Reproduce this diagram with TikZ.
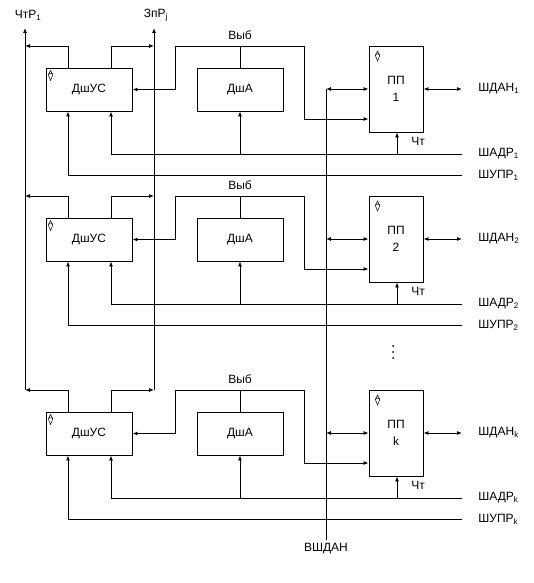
\documentclass[tikz,border=0pt]{standalone}
\usepackage{fontspec}
\setmainfont{Liberation Sans}
\usetikzlibrary{arrows.meta,positioning,calc}
\tikzset{
  >={Latex[length=5pt,width=4pt]},
  unit/.style  = {draw, minimum width=86pt, minimum height=43pt, inner sep=0pt},
  ppbox/.style = {draw, minimum width=54pt, minimum height=86pt, inner sep=0pt, align=center},
  lbl/.style   = {inner sep=1pt, anchor=west},
  op/.style    = {inner sep=1pt},
  pics/modemark/.style = {code={
    \draw[line width=0.5pt] (0,-5) -- (2.2,-0.5) -- (0,5) -- (-2.2,-0.5) -- cycle
      (-2.2,-1.8) -- (2.2,-1.8);}},
  every node/.style = {font=\fontsize{12}{17}\selectfont}
}

\begin{document}
\begin{tikzpicture}[x=1pt, y=-1pt, line width=0.9pt]
\useasboundingbox (0,0) rectangle (533,583);

% Common buses
\coordinate (rdtop) at (25,28);
\coordinate (rdbot) at (25,390);
\coordinate (wrtop) at (154,28);
\coordinate (wrbot) at (154,390);
\coordinate (vsbot) at (326,540);
\draw[->] (rdbot) -- (rdtop);
\draw[->] (wrbot) -- (wrtop);
\node[op] (rdlbl) at (28,15) {ЧтР\textsubscript{1}};
\node[op] (wrlbl) at (156,15) {ЗпР\textsubscript{j}};
\node[op] (vslbl) at (326,549) {ВШДАН};

% Block 1
\node[unit] (dsus1) at (89,89.5) {ДшУС};
\node[unit] (dsa1) at (240,89.5) {ДшА};
\node[ppbox] (pp1) at (396,89) {ПП\\1};
\pic at ([shift={(5,8)}]dsus1.north west) {modemark};
\pic at ([shift={(9,10.5)}]pp1.north west) {modemark};
\coordinate (rd1) at (25,46);
\coordinate (wr1) at (154,46);
\draw[->] ([xshift=-21pt]dsus1.north) |- (rd1);
\draw[->] ([xshift=22pt]dsus1.north) |- (wr1);
\coordinate (vyb1) at (240,46);
\node[op] (vybl1) at (240,35) {Выб};
\draw (dsa1.north) -- (vyb1);
\draw[->] (vyb1) -| (175,89.5) -- (dsus1.east);
\draw[->] (vyb1) -| ([xshift=-64pt,yshift=-30pt]pp1.west) -- ([yshift=-30pt]pp1.west);
\coordinate (vs1) at (326,89);
\draw (vs1) -- (vsbot);
\draw[<->] (vs1) -- (pp1.west);
\coordinate (sd1) at (462,89);
\draw[<->] (pp1.east) -- (sd1);
\node[lbl] (sdl1) at (477,89) {ШДАН\textsubscript{1}};
\coordinate (ad1) at (462,154);
\draw[->] (ad1) -| ([xshift=22pt]dsus1.south);
\draw[->] (dsa1.south |- ad1) -- (dsa1.south);
\draw[->] ([xshift=1pt]pp1.south |- ad1) -- ([xshift=1pt]pp1.south);
\node[op] (rdl1) at (418,141) {Чт};
\node[lbl] (adl1) at (477,154) {ШАДР\textsubscript{1}};
\coordinate (cn1) at (462,175);
\draw[->] (cn1) -| ([xshift=-21pt]dsus1.south);
\node[lbl] (cnl1) at (477,175) {ШУПР\textsubscript{1}};

% Block 2
\node[unit] (dsus2) at (89,239.5) {ДшУС};
\node[unit] (dsa2) at (240,239.5) {ДшА};
\node[ppbox] (pp2) at (396,239) {ПП\\2};
\pic at ([shift={(5,8)}]dsus2.north west) {modemark};
\pic at ([shift={(9,10.5)}]pp2.north west) {modemark};
\coordinate (rd2) at (25,196);
\coordinate (wr2) at (154,196);
\draw[->] ([xshift=-21pt]dsus2.north) |- (rd2);
\draw[->] ([xshift=22pt]dsus2.north) |- (wr2);
\coordinate (vyb2) at (240,196);
\node[op] (vybl2) at (240,185) {Выб};
\draw (dsa2.north) -- (vyb2);
\draw[->] (vyb2) -| (175,239.5) -- (dsus2.east);
\draw[->] (vyb2) -| ([xshift=-64pt,yshift=-30pt]pp2.west) -- ([yshift=-30pt]pp2.west);
\coordinate (vs2) at (326,239);
\draw[<->] (vs2) -- (pp2.west);
\coordinate (sd2) at (462,239);
\draw[<->] (pp2.east) -- (sd2);
\node[lbl] (sdl2) at (477,239) {ШДАН\textsubscript{2}};
\coordinate (ad2) at (462,304);
\draw[->] (ad2) -| ([xshift=22pt]dsus2.south);
\draw[->] (dsa2.south |- ad2) -- (dsa2.south);
\draw[->] ([xshift=1pt]pp2.south |- ad2) -- ([xshift=1pt]pp2.south);
\node[op] (rdl2) at (418,291) {Чт};
\node[lbl] (adl2) at (477,304) {ШАДР\textsubscript{2}};
\coordinate (cn2) at (462,325);
\draw[->] (cn2) -| ([xshift=-21pt]dsus2.south);
\node[lbl] (cnl2) at (477,325) {ШУПР\textsubscript{2}};

% continuation dots
\coordinate (dots) at (393,352);
\foreach \d in {-6,0,6}
  \fill ([yshift=\d pt]dots) circle (1pt);

% Block k
\node[unit] (dsus3) at (89,433.5) {ДшУС};
\node[unit] (dsa3) at (240,433.5) {ДшА};
\node[ppbox] (pp3) at (396,433) {ПП\\k};
\pic at ([shift={(5,8)}]dsus3.north west) {modemark};
\pic at ([shift={(9,10.5)}]pp3.north west) {modemark};
\draw[->] ([xshift=-21pt]dsus3.north) |- (rdbot);
\draw[->] ([xshift=22pt]dsus3.north) |- (wrbot);
\coordinate (vyb3) at (240,390);
\node[op] (vybl3) at (240,379) {Выб};
\draw (dsa3.north) -- (vyb3);
\draw[->] (vyb3) -| (175,433.5) -- (dsus3.east);
\draw[->] (vyb3) -| ([xshift=-64pt,yshift=-30pt]pp3.west) -- ([yshift=-30pt]pp3.west);
\coordinate (vs3) at (326,433);
\draw[<->] (vs3) -- (pp3.west);
\coordinate (sd3) at (462,433);
\draw[<->] (pp3.east) -- (sd3);
\node[lbl] (sdl3) at (477,433) {ШДАН\textsubscript{k}};
\coordinate (ad3) at (462,498);
\draw[->] (ad3) -| ([xshift=22pt]dsus3.south);
\draw[->] (dsa3.south |- ad3) -- (dsa3.south);
\draw[->] ([xshift=1pt]pp3.south |- ad3) -- ([xshift=1pt]pp3.south);
\node[op] (rdl3) at (418,485) {Чт};
\node[lbl] (adl3) at (477,498) {ШАДР\textsubscript{k}};
\coordinate (cn3) at (462,519);
\draw[->] (cn3) -| ([xshift=-21pt]dsus3.south);
\node[lbl] (cnl3) at (477,519) {ШУПР\textsubscript{k}};
\end{tikzpicture}
\end{document}
